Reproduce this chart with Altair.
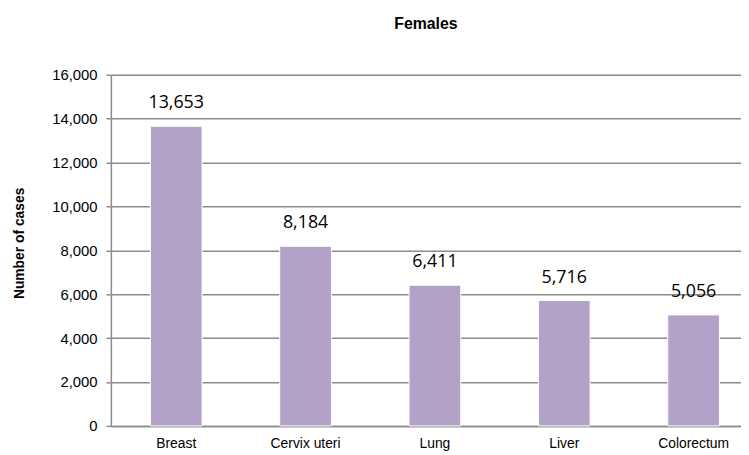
import altair as alt
import pandas as pd

sites = ["Breast", "Cervix uteri", "Lung", "Liver", "Colorectum"]
cases = [13653, 8184, 6411, 5716, 5056]
y_ticks = [0, 2000, 4000, 6000, 8000, 10000, 12000, 14000, 16000]

df = pd.DataFrame({"site": sites, "cases": cases})

base = alt.Chart(df).encode(
    x=alt.X("site:N", sort=sites, title=None,
            scale=alt.Scale(paddingInner=0.6, paddingOuter=0.236, align=0.647),
            axis=alt.Axis(labelAngle=0, labelFont="Liberation Sans", labelFontSize=14,
                          labelColor="black", labelPadding=11, ticks=False,
                          domainColor="#8c8c8c", domainWidth=1.5)),
    y=alt.Y("cases:Q", title="Number of cases",
            scale=alt.Scale(domain=[0, 16000], nice=False),
            axis=alt.Axis(values=y_ticks, labelExpr="format(datum.value, ',')",
                          labelFont="Liberation Sans",
                          labelFontSize=15, labelColor="black", labelPadding=9,
                          tickSize=5, tickColor="#8c8c8c", tickWidth=1.5,
                          gridColor="#8c8c8c", gridWidth=1.5,
                          domainColor="#8c8c8c", domainWidth=1.5,
                          titleFont="Liberation Sans", titleFontSize=14,
                          titleFontWeight="bold", titleColor="black",
                          titleX=-92, titleY=170, titleAngle=-90,
                          titleAlign="center", titleBaseline="middle")),
)

bars = base.mark_bar(color="#B2A2C7", stroke="white", strokeWidth=1)
labels = base.mark_text(baseline="alphabetic", dy=-18, font="Open Sans",
                        fontSize=18, color="black").encode(
    text=alt.Text("cases:Q", format=","))

chart = (bars + labels).properties(
    width=637, height=355,
    title=alt.TitleParams("Females", font="Liberation Sans", fontSize=16,
                          fontWeight="bold", color="black", offset=36, anchor="middle"),
    autosize=alt.AutoSizeParams(type="none"),
    padding={"left": 104, "top": 65, "right": 0, "bottom": 30},
).configure_view(stroke=None).configure(background="white")

chart.save("out.html", embed_options={"renderer": "svg", "actions": False})
